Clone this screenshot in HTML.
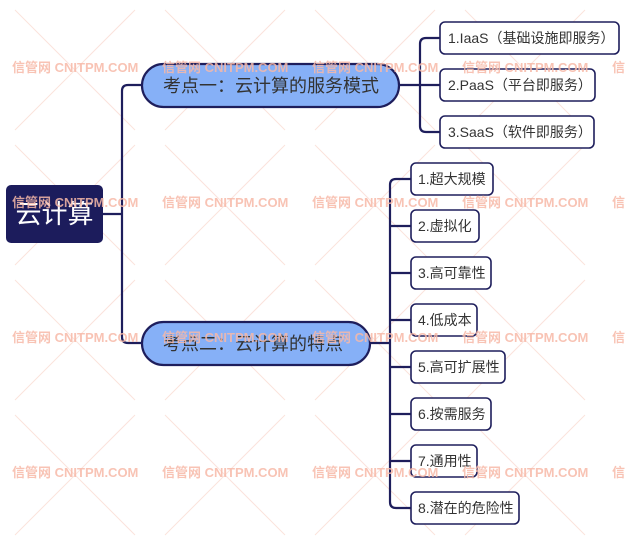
<!DOCTYPE html>
<html><head><meta charset="utf-8"><style>
html,body{margin:0;padding:0;background:#fff;}
svg{display:block;font-family:"Liberation Sans","Noto Sans CJK SC",sans-serif;}
.wm{fill:#f7b9a8;font-size:13px;font-weight:bold;}
.it{fill:#fff;stroke:#1e1e5c;stroke-width:1.6;}
.t{font-size:14px;fill:#333;}
.ln{fill:none;stroke:#1e1e5c;stroke-width:2.2;}
</style></head><body>
<svg width="626" height="539" viewBox="0 0 626 539" xmlns="http://www.w3.org/2000/svg">
<g stroke="#fbe3dc" stroke-width="1">
<path d="M15 10 L135 130 M135 10 L15 130 M165 10 L285 130 M285 10 L165 130 M315 10 L435 130 M435 10 L315 130 M465 10 L585 130 M585 10 L465 130"/>
<path d="M15 145 L135 265 M135 145 L15 265 M165 145 L285 265 M285 145 L165 265 M315 145 L435 265 M435 145 L315 265 M465 145 L585 265 M585 145 L465 265"/>
<path d="M15 280 L135 400 M135 280 L15 400 M165 280 L285 400 M285 280 L165 400 M315 280 L435 400 M435 280 L315 400 M465 280 L585 400 M585 280 L465 400"/>
<path d="M15 415 L135 535 M135 415 L15 535 M165 415 L285 535 M285 415 L165 535 M315 415 L435 535 M435 415 L315 535 M465 415 L585 535 M585 415 L465 535"/>
</g>
<path class="ln" d="M103 214 H122 M142 85 H128 Q122 85 122 91 V337 Q122 343 128 343 H142"/>
<path class="ln" d="M399 85 H420 M440 38 H426 Q420 38 420 44 V126 Q420 132 426 132 H440 M420 85 H440"/>
<path class="ln" d="M370 343 H390 M411 179 H396 Q390 179 390 185 V502 Q390 508 396 508 H411 M390 226 H411 M390 273 H411 M390 320 H411 M390 367 H411 M390 414 H411 M390 461 H411"/>
<rect x="6" y="185" width="97" height="58" rx="5" fill="#1c1c5c"/>
<text x="54.5" y="223" font-size="26" fill="#fff" text-anchor="middle">云计算</text>
<rect x="142" y="64" width="257" height="43" rx="21.5" fill="#86b0f7" stroke="#1e1e5c" stroke-width="2.2"/>
<text x="163" y="92" font-size="18" fill="#333">考点一：云计算的服务模式</text>
<rect x="142" y="322" width="228" height="43" rx="21.5" fill="#86b0f7" stroke="#1e1e5c" stroke-width="2.2"/>
<text x="163" y="350" font-size="18" fill="#333">考点二：云计算的特点</text>
<rect class="it" x="440" y="22" width="179" height="32" rx="5"/><text class="t" x="448" y="43">1.IaaS（基础设施即服务）</text>
<rect class="it" x="440" y="69" width="155" height="32" rx="5"/><text class="t" x="448" y="90">2.PaaS（平台即服务）</text>
<rect class="it" x="440" y="116" width="154" height="32" rx="5"/><text class="t" x="448" y="137">3.SaaS（软件即服务）</text>
<rect class="it" x="411" y="163" width="82" height="32" rx="5"/><text class="t" x="418" y="184">1.超大规模</text>
<rect class="it" x="411" y="210" width="68" height="32" rx="5"/><text class="t" x="418" y="231">2.虚拟化</text>
<rect class="it" x="411" y="257" width="80" height="32" rx="5"/><text class="t" x="418" y="278">3.高可靠性</text>
<rect class="it" x="411" y="304" width="66" height="32" rx="5"/><text class="t" x="418" y="325">4.低成本</text>
<rect class="it" x="411" y="351" width="94" height="32" rx="5"/><text class="t" x="418" y="372">5.高可扩展性</text>
<rect class="it" x="411" y="398" width="80" height="32" rx="5"/><text class="t" x="418" y="419">6.按需服务</text>
<rect class="it" x="411" y="445" width="66" height="32" rx="5"/><text class="t" x="418" y="466">7.通用性</text>
<rect class="it" x="411" y="492" width="108" height="32" rx="5"/><text class="t" x="418" y="513">8.潜在的危险性</text>
<g class="wm" opacity="0.85">
<text x="12" y="72">信管网 CNITPM.COM</text><text x="162" y="72">信管网 CNITPM.COM</text><text x="312" y="72">信管网 CNITPM.COM</text><text x="462" y="72">信管网 CNITPM.COM</text><text x="612" y="72">信</text>
<text x="12" y="207">信管网 CNITPM.COM</text><text x="162" y="207">信管网 CNITPM.COM</text><text x="312" y="207">信管网 CNITPM.COM</text><text x="462" y="207">信管网 CNITPM.COM</text><text x="612" y="207">信</text>
<text x="12" y="342">信管网 CNITPM.COM</text><text x="162" y="342">信管网 CNITPM.COM</text><text x="312" y="342">信管网 CNITPM.COM</text><text x="462" y="342">信管网 CNITPM.COM</text><text x="612" y="342">信</text>
<text x="12" y="477">信管网 CNITPM.COM</text><text x="162" y="477">信管网 CNITPM.COM</text><text x="312" y="477">信管网 CNITPM.COM</text><text x="462" y="477">信管网 CNITPM.COM</text><text x="612" y="477">信</text>
</g>
</svg>
</body></html>
